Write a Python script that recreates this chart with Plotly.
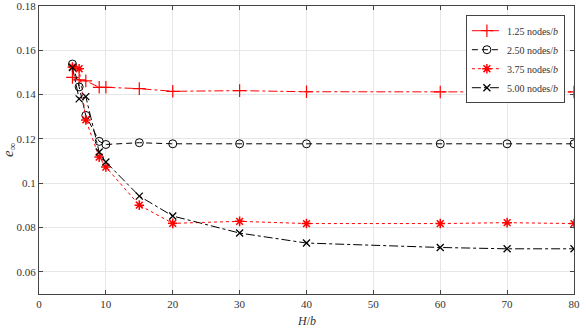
import plotly.graph_objects as go

H_b = [5, 6, 7, 9, 10, 15, 20, 30, 40, 60, 70, 80]
e_125 = [0.1478, 0.1467, 0.1462, 0.1433, 0.1433, 0.1427, 0.1415, 0.1418, 0.1413, 0.1412, 0.1414, 0.1412]
e_250 = [0.1538, 0.1435, 0.1306, 0.1189, 0.1175, 0.1183, 0.1178, 0.1178, 0.1178, 0.1178, 0.1178, 0.1178]
e_375 = [0.1525, 0.1517, 0.1286, 0.1118, 0.1073, 0.0901, 0.0819, 0.0828, 0.0818, 0.0818, 0.0822, 0.0818]
e_500 = [0.1522, 0.1381, 0.1391, 0.1141, 0.1096, 0.0942, 0.0852, 0.0775, 0.0730, 0.0710, 0.0704, 0.0704]
labels = ["1.25 nodes/<i>b</i>", "2.50 nodes/<i>b</i>", "3.75 nodes/<i>b</i>", "5.00 nodes/<i>b</i>"]
x_ticks = list(range(0, 81, 10))
y_ticks = [0.06, 0.08, 0.1, 0.12, 0.14, 0.16, 0.18]
y_tick_text = ["0.06", "0.08", "0.1", "0.12", "0.14", "0.16", "0.18"]

FONT = "Liberation Serif"
fig = go.Figure()
fig.add_trace(go.Scatter(x=H_b, y=e_125, name=labels[0], mode="lines+markers",
                         line=dict(color="red", width=1, dash="dashdot"),
                         marker=dict(symbol="cross-thin-open", size=9, color="red", line=dict(width=1.2, color="red"))))
fig.add_trace(go.Scatter(x=H_b, y=e_250, name=labels[1], mode="lines+markers",
                         line=dict(color="black", width=1, dash="6px,4px"),
                         marker=dict(symbol="circle-open", size=8, color="black", line=dict(width=1, color="black"))))
fig.add_trace(go.Scatter(x=H_b, y=e_375, name=labels[2], mode="lines+markers",
                         line=dict(color="red", width=1, dash="dot"),
                         marker=dict(symbol="asterisk-open", size=8, color="red", line=dict(width=1.5, color="red"))))
fig.add_trace(go.Scatter(x=H_b, y=e_500, name=labels[3], mode="lines+markers",
                         line=dict(color="black", width=1, dash="dashdot"),
                         marker=dict(symbol="x-thin-open", size=7, color="black", line=dict(width=1.3, color="black"))))

axis_common = dict(showline=True, linecolor="#444", linewidth=1, mirror="ticks",
                   ticks="inside", ticklen=4, tickcolor="#444", automargin=False,
                   ticklabeloverflow="allow",
                   showgrid=True, gridcolor="#e6e6e6", gridwidth=1, zeroline=False,
                   tickfont=dict(family=FONT, size=11, color="#333"))
fig.update_xaxes(range=[0, 80.0001], tickvals=x_ticks, **axis_common)
fig.update_yaxes(range=[0.05, 0.18001], tickvals=y_ticks, ticktext=y_tick_text, **axis_common)
fig.update_layout(
    width=581, height=329,
    margin=dict(l=39, r=7, t=6, b=35),
    paper_bgcolor="white", plot_bgcolor="white",
    font=dict(family=FONT, size=11, color="#333"),
    legend=dict(x=0.983, y=0.968, xanchor="right", yanchor="top",
                bgcolor="white", bordercolor="#444", borderwidth=1,
                font=dict(family=FONT, size=10, color="#333"),
                tracegroupgap=0, itemwidth=30),
    showlegend=True,
    annotations=[
        dict(text="<i>H</i>/<i>b</i>", xref="paper", yref="paper", x=0.5, y=-0.062,
             xanchor="center", yanchor="top", showarrow=False,
             font=dict(family=FONT, size=12, color="#333")),
        dict(text="<i>e</i><sub>∞</sub>", xref="paper", yref="paper", x=-0.056, y=0.5,
             xanchor="center", yanchor="middle", showarrow=False, textangle=-90,
             font=dict(family=FONT, size=15, color="#333")),
    ],
)
fig.write_html("out.html", config={"displayModeBar": False},
               post_script="document.body.style.margin='0';document.body.style.overflow='hidden';")
